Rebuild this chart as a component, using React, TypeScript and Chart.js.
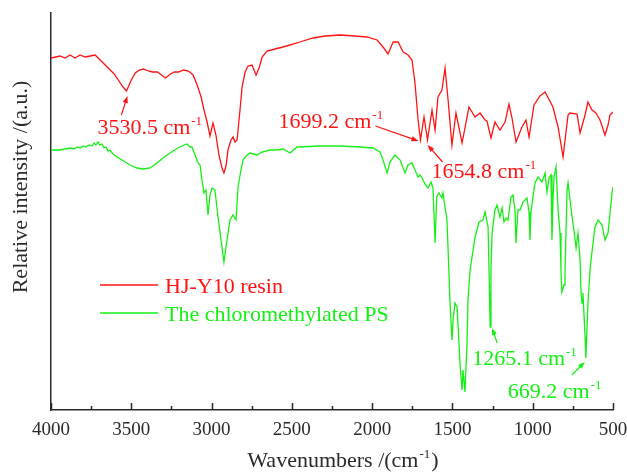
import React, { useEffect, useRef } from "react";
import { Chart, registerables } from "chart.js";

Chart.register(...registerables);

const FONT = "'Liberation Serif', 'Times New Roman', Times, serif";
const RED = "#ff1414";
const GREEN = "#14f014";
const AXIS = "#2a2a2a";

// ---- data (wavenumber in cm-1, relative intensity in a.u.) ----
const resinWavenumbers = [
  4000, 3944, 3912, 3881, 3850, 3819, 3787, 3756, 3725, 3700,
  3675, 3650, 3631, 3606, 3581, 3556, 3530, 3500, 3475, 3450,
  3425, 3394, 3369, 3337, 3312, 3287, 3256, 3231, 3206, 3175,
  3144, 3115, 3090, 3065, 3047, 3028, 3010, 2991, 2973, 2954,
  2935, 2923, 2910, 2898, 2879, 2866, 2854, 2841, 2823, 2810,
  2791, 2773, 2748, 2723, 2704, 2685, 2655, 2605, 2555, 2511,
  2450, 2368, 2293, 2200, 2107, 2032, 1969, 1932, 1901, 1869,
  1838, 1807, 1776, 1752, 1733, 1714, 1699, 1677, 1655, 1627,
  1608, 1590, 1565, 1546, 1527, 1503, 1478, 1440, 1397, 1359,
  1328, 1297, 1285, 1260, 1235, 1204, 1172, 1148, 1129, 1104,
  1067, 1042, 1023, 992, 955, 923, 874, 842, 811, 780,
  768, 724, 705, 674, 656, 631, 606, 581, 550, 531,
  519, 500,
];
const resinIntensity = [
  352, 354, 352, 355, 352, 355, 353, 354, 355, 351,
  347, 343, 340, 336, 330, 324, 319, 330, 337, 340,
  341, 339, 338, 338, 335, 332, 336, 338, 338, 340,
  339, 335, 325, 313, 300, 288, 274, 287, 275, 255,
  242, 237, 244, 260, 270, 273, 268, 270, 300, 323,
  338, 344, 345, 335, 342, 353, 359, 361, 363, 365,
  368, 372, 374, 375, 374, 373, 370, 363, 356, 368,
  368, 358, 355, 350, 327, 290, 270, 293, 270, 300,
  280, 313, 320, 342, 310, 265, 297, 267, 303, 293,
  297, 290, 289, 272, 288, 280, 288, 306, 292, 268,
  283, 290, 273, 305, 314, 318, 303, 283, 253, 295,
  297, 296, 277, 295, 308, 300, 297, 290, 275, 285,
  295, 298,
];

const psWavenumbers = [
  4000, 3975, 3944, 3913, 3882, 3857, 3838, 3819, 3801, 3782,
  3763, 3745, 3732, 3720, 3707, 3695, 3682, 3670, 3657, 3645,
  3633, 3614, 3589, 3558, 3508, 3464, 3427, 3383, 3340, 3302,
  3259, 3209, 3172, 3153, 3134, 3122, 3103, 3084, 3072, 3060,
  3047, 3035, 3022, 3010, 2997, 2979, 2960, 2941, 2923, 2904,
  2885, 2867, 2848, 2835, 2817, 2804, 2779, 2761, 2717, 2686,
  2636, 2592, 2555, 2511, 2468, 2325, 2200, 2076, 1995, 1951,
  1932, 1907, 1889, 1858, 1826, 1795, 1777, 1752, 1733, 1714,
  1702, 1689, 1671, 1652, 1633, 1621, 1608, 1598, 1584, 1565,
  1559, 1534, 1521, 1515, 1503, 1496, 1484, 1471, 1453, 1440,
  1434, 1422, 1409, 1403, 1390, 1359, 1334, 1310, 1297, 1278,
  1272, 1265, 1260, 1253, 1235, 1222, 1204, 1191, 1179, 1166,
  1154, 1135, 1123, 1110, 1104, 1092, 1079, 1060, 1036, 1023,
  1017, 1011, 986, 967, 942, 923, 911, 898, 886, 880,
  874, 867, 855, 842, 830, 824, 818, 805, 799, 786,
  780, 755, 743, 730, 718, 705, 699, 693, 687, 674,
  669, 656, 643, 631, 612, 593, 568, 550, 531, 506,
  500,
];
const psIntensity = [
  260, 260, 260, 261, 262, 261, 263, 262, 264, 263,
  265, 264, 267, 265, 268, 265, 266, 262, 263, 259,
  260, 256, 253, 250, 245, 242, 241, 242, 247, 252,
  257, 262, 265, 266, 263, 263, 255, 247, 245, 230,
  217, 220, 195, 215, 222, 220, 193, 170, 148, 170,
  190, 195, 190, 223, 240, 250, 255, 257, 255, 258,
  260, 260, 261, 257, 263, 264, 264, 263, 262, 258,
  250, 237, 248, 255, 250, 237, 245, 247, 240, 233,
  235, 232, 226, 222, 228, 222, 167, 213, 217, 212,
  217, 190, 135, 107, 70, 90, 107, 103, 47, 20,
  40, 18, 67, 110, 140, 173, 188, 190, 198, 183,
  140, 83, 140, 177, 200, 205, 193, 202, 188, 192,
  190, 213, 215, 200, 167, 200, 200, 208, 212, 198,
  170, 198, 227, 233, 228, 237, 218, 232, 235, 170,
  210, 233, 243, 200, 177, 140, 118, 125, 138, 220,
  227, 193, 180, 162, 177, 150, 117, 107, 117, 73,
  52, 107, 140, 158, 183, 190, 185, 170, 177, 217,
  223,
];

const seriesNames = ["HJ-Y10 resin", "The chloromethylated PS"];
const xTickValues = [4000, 3500, 3000, 2500, 2000, 1500, 1000, 500];
const xMinorTickValues = [3750, 3250, 2750, 2250, 1750, 1250, 750];

// peak labels (series index, wavenumber)
const peakSeries = [0, 0, 0, 1, 1];
const peakWavenumbers = [3530.5, 1699.2, 1654.8, 1265.1, 669.2];

// annotation layout: offsets in px relative to the peak point
const peakLayout = [
  { tip: [1, 5], tail: [-5, 24], text: [-29, 43] },
  { tip: [-2, 1], tail: [-45, -14], text: [-142, -12] },
  { tip: [0, 5], tail: [15, 22], text: [4, 38] },
  { tip: [2, 1], tail: [7, 16], text: [-18, 38] },
  { tip: [-1, 4], tail: [-14, 17], text: [-78, 40] },
];

const seriesWn = [resinWavenumbers, psWavenumbers];
const seriesVal = [resinIntensity, psIntensity];
const seriesColors = [RED, GREEN];

function nearestValue(s: number, wn: number): number {
  const w = seriesWn[s];
  let best = 0;
  for (let i = 1; i < w.length; i++) {
    if (Math.abs(w[i] - wn) < Math.abs(w[best] - wn)) best = i;
  }
  return seriesVal[s][best];
}

function drawSup(
  ctx: CanvasRenderingContext2D,
  pre: string,
  sup: string,
  post: string,
  x: number,
  y: number,
  size: number,
  color: string,
  align: "left" | "center"
) {
  const base = `${size}px ${FONT}`;
  const small = `${Math.round(size * 0.6)}px ${FONT}`;
  ctx.font = base;
  const w1 = ctx.measureText(pre).width;
  const w3 = post ? ctx.measureText(post).width : 0;
  ctx.font = small;
  const w2 = ctx.measureText(sup).width;
  const total = w1 + 1 + w2 + (post ? 1 + w3 : 0);
  const sx = align === "center" ? x - total / 2 : x;
  ctx.fillStyle = color;
  ctx.textAlign = "left";
  ctx.textBaseline = "alphabetic";
  ctx.font = base;
  ctx.fillText(pre, sx, y);
  ctx.font = small;
  ctx.fillText(sup, sx + w1 + 1, y - size * 0.42);
  if (post) {
    ctx.font = base;
    ctx.fillText(post, sx + w1 + 1 + w2 + 1, y);
  }
}

function arrow(ctx: CanvasRenderingContext2D, x1: number, y1: number, x2: number, y2: number, color: string) {
  const ang = Math.atan2(y2 - y1, x2 - x1);
  const len = 7;
  const hw = 2.6;
  ctx.strokeStyle = color;
  ctx.fillStyle = color;
  ctx.lineWidth = 1.2;
  ctx.beginPath();
  ctx.moveTo(x1, y1);
  ctx.lineTo(x2 - Math.cos(ang) * len * 0.8, y2 - Math.sin(ang) * len * 0.8);
  ctx.stroke();
  ctx.beginPath();
  ctx.moveTo(x2, y2);
  ctx.lineTo(x2 - Math.cos(ang) * len - Math.sin(ang) * hw, y2 - Math.sin(ang) * len + Math.cos(ang) * hw);
  ctx.lineTo(x2 - Math.cos(ang) * len + Math.sin(ang) * hw, y2 - Math.sin(ang) * len - Math.cos(ang) * hw);
  ctx.closePath();
  ctx.fill();
}

const overlayPlugin = {
  id: "overlay",
  afterDraw(chart: any) {
    const ctx: CanvasRenderingContext2D = chart.ctx;
    const xs = chart.scales.x;
    const ys = chart.scales.y;
    const area = chart.chartArea;
    ctx.save();

    // inward ticks
    ctx.strokeStyle = AXIS;
    ctx.lineWidth = 1.5;
    xTickValues.forEach((v) => {
      const px = Math.round(xs.getPixelForValue(v)) + 0.5;
      ctx.beginPath();
      ctx.moveTo(px, area.bottom);
      ctx.lineTo(px, area.bottom - 7);
      ctx.stroke();
    });
    xMinorTickValues.forEach((v) => {
      const px = Math.round(xs.getPixelForValue(v)) + 0.5;
      ctx.beginPath();
      ctx.moveTo(px, area.bottom);
      ctx.lineTo(px, area.bottom - 4);
      ctx.stroke();
    });

    // axis titles
    ctx.save();
    ctx.translate(21, 187);
    ctx.rotate(-Math.PI / 2);
    ctx.font = `22px ${FONT}`;
    ctx.fillStyle = AXIS;
    ctx.textAlign = "center";
    ctx.textBaseline = "middle";
    ctx.fillText("Relative intensity /(a.u.)", 0, 0);
    ctx.restore();
    drawSup(ctx, "Wavenumbers /(cm", "-1", ")", 343, 467, 22, AXIS, "center");

    // legend
    seriesNames.forEach((name, i) => {
      const ly = area.top + 272 + i * 28;
      ctx.strokeStyle = seriesColors[i];
      ctx.lineWidth = 1.4;
      ctx.beginPath();
      ctx.moveTo(area.left + 49, ly);
      ctx.lineTo(area.left + 107, ly);
      ctx.stroke();
      ctx.fillStyle = seriesColors[i];
      ctx.font = `22px ${FONT}`;
      ctx.textAlign = "left";
      ctx.textBaseline = "alphabetic";
      ctx.fillText(name, area.left + 114, ly + 8);
    });

    // peak annotations
    peakWavenumbers.forEach((wn, i) => {
      const s = peakSeries[i];
      const ax = xs.getPixelForValue(wn);
      const ay = ys.getPixelForValue(nearestValue(s, wn));
      const L = peakLayout[i];
      const col = seriesColors[s];
      arrow(ctx, ax + L.tail[0], ay + L.tail[1], ax + L.tip[0], ay + L.tip[1], col);
      drawSup(ctx, `${wn.toFixed(1)} cm`, "-1", "", ax + L.text[0], ay + L.text[1], 22, col, "left");
    });

    ctx.restore();
  },
};

export default function App() {
  const ref = useRef<HTMLCanvasElement | null>(null);

  useEffect(() => {
    document.body.style.margin = "0";
    const canvas = ref.current;
    if (!canvas) return;
    const datasets = seriesNames.map((name, s) => ({
      label: name,
      data: seriesWn[s].map((w, i) => ({ x: w, y: seriesVal[s][i] })),
      borderColor: seriesColors[s],
      backgroundColor: seriesColors[s],
      borderWidth: 1.3,
      pointRadius: 0,
      tension: 0,
      fill: false,
    }));
    const chart = new Chart(canvas, {
      type: "line",
      data: { datasets },
      options: {
        responsive: false,
        animation: false,
        layout: { padding: { top: 13, right: 14, left: 0, bottom: 0 } },
        plugins: { legend: { display: false }, tooltip: { enabled: false } },
        scales: {
          x: {
            type: "linear",
            min: 500,
            max: 4000,
            reverse: true,
            afterBuildTicks: (s: any) => {
              s.ticks = xTickValues.map((v) => ({ value: v }));
            },
            afterFit: (s: any) => {
              s.height = 62;
              s.paddingLeft = 0;
              s.paddingRight = 0;
            },
            ticks: {
              callback: (v: any) => String(v),
              font: { family: FONT, size: 19 },
              color: AXIS,
              padding: 9,
              maxRotation: 0,
              autoSkip: false,
            },
            grid: { display: false, drawTicks: false },
            border: { display: true, color: AXIS, width: 1.5 },
          },
          y: {
            type: "linear",
            min: 0,
            max: 397,
            afterFit: (s: any) => {
              s.width = 51;
              s.paddingTop = 0;
              s.paddingBottom = 0;
            },
            ticks: { display: false },
            grid: { display: false, drawTicks: false },
            border: { display: true, color: AXIS, width: 1.5 },
          },
        },
      },
      plugins: [overlayPlugin],
    } as any);
    return () => chart.destroy();
  }, []);

  return (
    <div style={{ position: "absolute", left: 0, top: 0, width: 627, height: 472, background: "#fff" }}>
      <canvas ref={ref} width={627} height={472} style={{ display: "block", width: 627, height: 472 }} />
    </div>
  );
}
